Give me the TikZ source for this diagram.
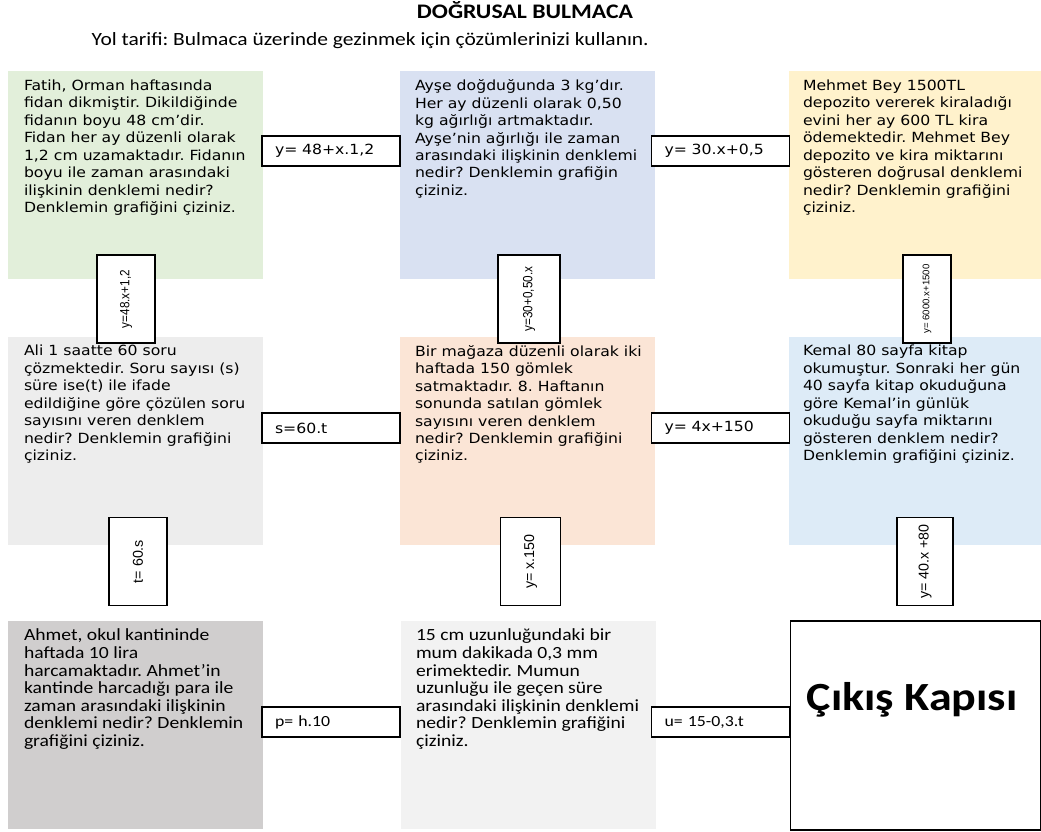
\documentclass[tikz,border=0pt]{standalone}
\usepackage{fontspec}
\setmainfont[FakeStretch=1.12]{DejaVu Sans}
\newfontfamily\calibri[FakeStretch=1.15]{Carlito}
\newfontfamily\arialfont{Liberation Sans}
\newfontfamily\arialnarrow[FakeStretch=0.88]{Liberation Sans}
\usetikzlibrary{positioning}
\frenchspacing

\definecolor{fatihgreen}{HTML}{E2EFDA}
\definecolor{ayseblue}{HTML}{D9E1F2}
\definecolor{mehmetyellow}{HTML}{FFF2CC}
\definecolor{aligrey}{HTML}{EDEDED}
\definecolor{magazapeach}{HTML}{FBE5D6}
\definecolor{kemalblue}{HTML}{DDEBF7}
\definecolor{ahmetgrey}{HTML}{D0CECE}
\definecolor{mumgrey}{HTML}{F2F2F2}

\begin{document}
\begin{tikzpicture}[x=0.75pt, y=-0.75pt,
  panel/.style={minimum width=191.25pt, minimum height=156pt, inner sep=0pt},
  question/.style={inner sep=0pt, align=left, font=\fontsize{10.5}{13.1}\selectfont},
  qcalibri/.style={inner sep=0pt, align=left, font=\calibri\fontsize{12.8}{13.2}\selectfont},
  answer/.style={draw, fill=white, line width=0.9pt, minimum height=22.5pt,
    text width=84pt, inner xsep=9.75pt, align=left, font=\fontsize{10.5}{12}\selectfont},
  vanswer/.style={draw, fill=white, line width=0.9pt, rotate=90, minimum width=66pt,
    inner sep=1pt, font=\arialfont\fontsize{10.7}{12}\selectfont}]
  \useasboundingbox (0,0) rectangle (1041,831);

  % Heading
  \node[font=\calibri\bfseries\fontsize{15.5}{18}\selectfont] (baslik) at (525,10) {DOĞRUSAL BULMACA};
  \node[anchor=west, font=\calibri\fontsize{14}{16}\selectfont] (tarif) at (87,41)
    {Yol tarifi: Bulmaca üzerinde gezinmek için çözümlerinizi kullanın.};

  % Row 1
  \node[panel, fill=fatihgreen] (fatih) at (135.5,175) {};
  \node[question, below right=6.5pt and 12pt of fatih.north west] (fatihq)
    {Fatih, Orman haftasında\\fidan dikmiştir. Dikildiğinde\\fidanın boyu 48 cm’dir.\\Fidan her ay düzenli olarak\\1,2 cm uzamaktadır. Fidanın\\boyu ile zaman arasındaki\\ilişkinin denklemi nedir?\\Denklemin grafiğini çiziniz.};
  \node[panel, fill=ayseblue] (ayse) at (527.5,175) {};
  \node[question, below right=6.5pt and 11.25pt of ayse.north west] (ayseq)
    {Ayşe doğduğunda 3 kg’dır.\\Her ay düzenli olarak 0,50\\kg ağırlığı artmaktadır.\\Ayşe’nin ağırlığı ile zaman\\arasındaki ilişkinin denklemi\\nedir? Denklemin grafiğin\\çiziniz.};
  \node[panel, fill=mehmetyellow] (mehmet) at (916.5,175) {};
  \node[question, below right=6.5pt and 10.5pt of mehmet.north west] (mehmetq)
    {Mehmet Bey 1500TL\\depozito vererek kiraladığı\\evini her ay 600 TL kira\\ödemektedir. Mehmet Bey\\depozito ve kira miktarını\\gösteren doğrusal denklemi\\nedir? Denklemin grafiğini\\çiziniz.};

  % Row 2
  \node[panel, fill=aligrey] (ali) at (135.5,440.5) {};
  \node[question, below right=6.5pt and 12pt of ali.north west] (aliq)
    {Ali 1 saatte 60 soru\\çözmektedir. Soru sayısı (s)\\süre ise(t) ile ifade\\edildiğine göre çözülen soru\\sayısını veren denklem\\nedir? Denklemin grafiğini\\çiziniz.};
  \node[panel, fill=magazapeach] (magaza) at (527.5,440.5) {};
  \node[question, below right=6.5pt and 11.25pt of magaza.north west] (magazaq)
    {Bir mağaza düzenli olarak iki\\haftada 150 gömlek\\satmaktadır. 8. Haftanın\\sonunda satılan gömlek\\sayısını veren denklem\\nedir? Denklemin grafiğini\\çiziniz.};
  \node[panel, fill=kemalblue] (kemal) at (916.5,440.5) {};
  \node[question, below right=6.5pt and 10.5pt of kemal.north west] (kemalq)
    {Kemal 80 sayfa kitap\\okumuştur. Sonraki her gün\\40 sayfa kitap okuduğuna\\göre Kemal’in günlük\\okuduğu sayfa miktarını\\gösteren denklem nedir?\\Denklemin grafiğini çiziniz.};

  % Row 3
  \node[panel, fill=ahmetgrey] (ahmet) at (135.5,725) {};
  \node[qcalibri, below right=6pt and 12pt of ahmet.north west] (ahmetq)
    {Ahmet, okul kantininde\\haftada 10 lira\\harcamaktadır. Ahmet’in\\kantinde harcadığı para ile\\zaman arasındaki ilişkinin\\denklemi nedir? Denklemin\\grafiğini çiziniz.};
  \node[panel, fill=mumgrey] (mum) at (528.5,725) {};
  \node[qcalibri, below right=6pt and 11.25pt of mum.north west] (mumq)
    {15 cm uzunluğundaki bir\\mum dakikada 0,3 mm\\erimektedir. Mumun\\uzunluğu ile geçen süre\\arasındaki ilişkinin denklemi\\nedir? Denklemin grafiğini\\çiziniz.};
  \node[draw, line width=0.9pt, minimum width=187.5pt, minimum height=156.75pt, inner sep=0pt] (cikis) at (915.5,725.5) {};
  \node[font=\calibri\bfseries\fontsize{30}{34}\selectfont] (cikisyazi) at (912,700) {Çıkış Kapısı};

  % Answers between the panels
  \node[answer] (cevap1) at (331,151) {y= 48+x.1,2};
  \node[answer] (cevap2) at (720.5,151) {y= 30.x+0,5};
  \node[answer] (cevap3) at (331,428) {s=60.t};
  \node[answer] (cevap4) at (720.5,428) {y= 4x+150};
  \node[answer, font=\calibri\fontsize{11.6}{13}\selectfont] (cevap5) at (331,722) {p= h.10};
  \node[answer, font=\calibri\fontsize{11.6}{13}\selectfont] (cevap6) at (720.5,722) {u= 15-0,3.t};

  % Answers across the rows
  \node[vanswer, minimum height=43.5pt, font=\arialnarrow\fontsize{10}{12}\selectfont] (dik1) at (126,299) {y=48.x+1,2};
  \node[vanswer, minimum height=46.5pt, font=\arialnarrow\fontsize{10}{12}\selectfont] (dik2) at (529,299) {y=30+0,50.x};
  \node[vanswer, minimum height=36pt, font=\arialfont\fontsize{7.2}{9}\selectfont] (dik3) at (927,299) {y= 6000.x+1500};
  \node[vanswer, minimum height=43.5pt] (dik4) at (138,561.5) {t= 60.s};
  \node[vanswer, minimum height=45pt] (dik5) at (530.5,561.5) {y= x.150};
  \node[vanswer, minimum height=42pt] (dik6) at (925,561.5) {y= 40.x +80};
\end{tikzpicture}
\end{document}
